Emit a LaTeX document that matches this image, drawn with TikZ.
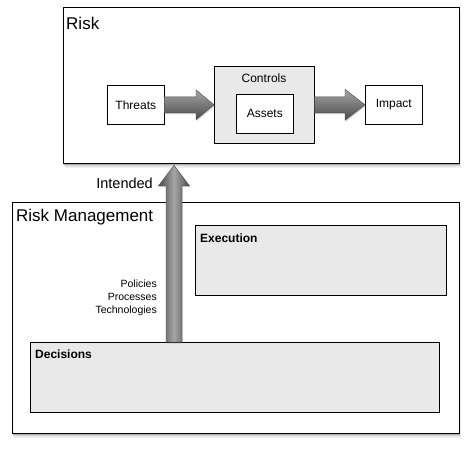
\documentclass[tikz,border=0pt]{standalone}
\usepackage{fontspec}
\setmainfont{Liberation Sans}
\usetikzlibrary{calc,shadows}
\definecolor{boxgray}{RGB}{233,233,233}
\definecolor{arrowlight}{RGB}{165,165,165}
\definecolor{arrowdark}{RGB}{75,75,75}
\tikzset{
  frame/.style={draw=black, line width=0.8pt, fill=white, inner sep=0pt, anchor=north west,
    drop shadow={shadow xshift=1.5pt, shadow yshift=-4.5pt, opacity=0.15},
    drop shadow={shadow xshift=1pt, shadow yshift=-3pt, opacity=0.25},
    drop shadow={shadow xshift=0.5pt, shadow yshift=-1.5pt, opacity=0.4}},
  smallbox/.style={draw=black, line width=0.6pt, fill=white, inner sep=0pt, anchor=north west,
    minimum width=57pt, minimum height=39pt, font=\fontsize{12}{14}\selectfont},
  graybox/.style={draw=black, line width=0.6pt, fill=boxgray, inner sep=0pt, anchor=north west},
  biglabel/.style={inner sep=0pt, anchor=west, font=\fontsize{17}{20}\selectfont},
  boldlabel/.style={inner sep=0pt, anchor=west, font=\fontsize{12}{14}\selectfont\bfseries},
  harrow/.style={draw=arrowdark, line width=0.4pt, top color=arrowlight, bottom color=arrowdark,
    drop shadow={shadow xshift=0.8pt, shadow yshift=-1.5pt, opacity=0.3}},
  varrow/.style={draw=arrowdark, line width=0.4pt, left color=arrowdark, right color=arrowdark, middle color=arrowlight,
    drop shadow={shadow xshift=0.8pt, shadow yshift=-1.5pt, opacity=0.3}},
}
\begin{document}
\begin{tikzpicture}[x=1pt,y=-1pt]
\useasboundingbox (0,0) rectangle (470,448);
\fill[white] (0,0) rectangle (470,448);

% Risk frame
\node[frame, minimum width=396pt, minimum height=156pt] (risk) at (63,7) {};
\node[biglabel] (risklbl) at (66,23) {Risk};
\node[smallbox] (threats) at (107,85) {Threats};
\node[graybox, minimum width=100pt, minimum height=77pt] (controls) at (214,66) {};
\node[inner sep=0pt, font=\fontsize{12}{14}\selectfont] (controlslbl) at (264,78) {Controls};
\node[smallbox] (assets) at (236,94) {Assets};
\node[smallbox] (impact) at (365,85) {Impact};

\path[harrow] ($(threats.east)+(0,-8)$) -- ($(controls.west)+(-18,-8)$) -- ($(controls.west)+(-18,-15)$)
  -- (controls.west) -- ($(controls.west)+(-18,15)$) -- ($(controls.west)+(-18,8)$) -- ($(threats.east)+(0,8)$) -- cycle;
\path[harrow] ($(controls.east)+(0,-8)$) -- ($(impact.west)+(-20,-8)$) -- ($(impact.west)+(-20,-15.5)$)
  -- (impact.west) -- ($(impact.west)+(-20,15.5)$) -- ($(impact.west)+(-20,8)$) -- ($(controls.east)+(0,8)$) -- cycle;

% Risk Management frame
\node[frame, minimum width=447pt, minimum height=231pt] (rm) at (12,202) {};
\node[biglabel] (rmlbl) at (16,217) {Risk Management};
\node[graybox, minimum width=251pt, minimum height=70pt] (execution) at (195,225) {};
\node[boldlabel] (execlbl) at (200,238) {Execution};
\node[graybox, minimum width=409pt, minimum height=70pt] (decisions) at (30,342) {};
\node[boldlabel] (declbl) at (35,354) {Decisions};

% Intended arrow
\coordinate (vstart) at ($(decisions.north west)+(144,0)$);
\coordinate (vtip) at (vstart |- risk.south);
\path[varrow] ($(vstart)+(-8,0)$) -- ($(vtip)+(-8,22)$) -- ($(vtip)+(-15.5,22)$) -- ($(vtip)+(0,1.5)$)
  -- ($(vtip)+(15.5,22)$) -- ($(vtip)+(8,22)$) -- ($(vstart)+(8,0)$) -- cycle;

\node[inner sep=0pt, anchor=east, font=\fontsize{14.5}{17}\selectfont] (intended) at (153,183) {Intended};
\node[inner sep=0pt, anchor=east, align=right, font=\fontsize{10.5}{13}\selectfont] (means) at (157,298)
  {Policies\\Processes\\Technologies};
\end{tikzpicture}
\end{document}
